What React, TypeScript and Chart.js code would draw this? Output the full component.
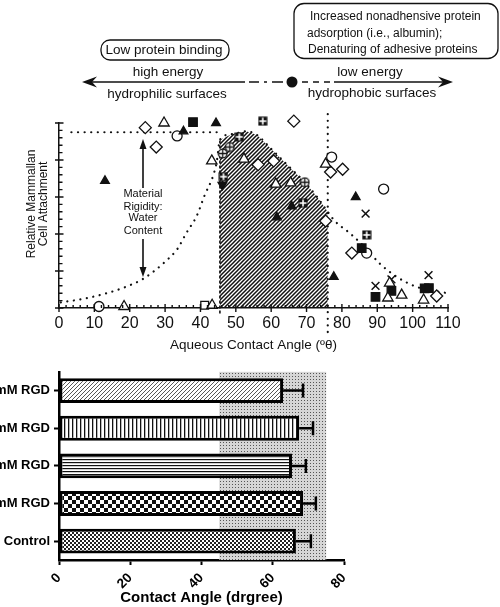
import React, { useEffect, useRef } from 'react';
import { Chart, registerables } from 'chart.js';
Chart.register(...registerables);

const FONT = "'Liberation Sans', Arial, Helvetica, sans-serif";

// ---------- top chart data ----------
const angleTicks = [0, 10, 20, 30, 40, 50, 60, 70, 80, 90, 100, 110];
const curveAngles = [0.5, 7, 13.5, 19, 24, 30, 33.5, 36, 39, 41.2, 43.5, 44.6, 45.5, 49, 53, 56, 60, 65, 69.5, 73, 76, 78, 82.2, 86.4, 90.7, 95.4, 101, 106.7, 110];
const curveAttach = [3, 5, 8, 11.5, 16, 25, 32, 40.5, 50, 61, 71, 79, 91, 94, 95.5, 93.5, 86, 76.5, 68, 60, 52, 47, 40.5, 33, 24, 17, 11.5, 9, 8];
const optimalRange = [45.5, 76];
const plateauLine = [[3.5, 95], [45.5, 95]];
const leftEdgeSpan = [-3, 91];
const rightEdgeSpan = [-13, 105];

const openTriangles = [[29.7, 100], [43.2, 79.5], [18.4, 0.8], [43.3, 1.5], [52.3, 80.5], [61.3, 67], [65.5, 67.6], [75.4, 77.8], [93, 5.4], [93.5, 13.5], [96.9, 7], [103.1, 4.3]];
const filledTriangles = [[44.4, 100], [13, 68.7], [35.2, 95.5], [65.8, 55], [61.6, 49], [83.9, 60], [77.7, 16.8]];
const filledSquares = [[37.9, 100.5], [85.6, 32.4], [89.5, 6], [94, 9.2], [103.4, 10.6], [104.6, 10.8]];
const openSquares = [[41.2, 1.5]];
const openDiamonds = [[24.4, 97.5], [27.5, 87], [66.4, 101], [56.3, 77.5], [60.7, 79.5], [75.4, 47], [76.8, 73.5], [80.2, 75], [82.8, 29.7], [106.8, 6.5]];
const openCircles = [[11.3, 0.8], [33.4, 93], [77.1, 81.6], [91.8, 64.3], [87, 29.7]];
const crossMarks = [[86.7, 51], [89.5, 12], [94, 15.5], [104.5, 17.8]];
const crossSquares = [[57.6, 101], [51, 92.5], [46.5, 71], [87, 39.5], [69, 56.7]];
const crossCircles = [[69.5, 68], [48.3, 87], [46.3, 83.5]];
const invertedTriangles = [[46.2, 66.5]];

// ---------- bottom chart data ----------
const groups = ['2mM RGD', '1mM RGD', '0.5mM RGD', '0.1mM RGD', 'Control'];
const means = [62.9, 67.4, 65.4, 68.5, 66.5];
const errors = [5.6, 3.9, 3.9, 3.6, 4.2];
const shadeRange = [45, 75];
const contactTicks = [0, 20, 40, 60, 80];

const pts = (arr: number[][]) => arr.map(([x, y]) => ({ x, y }));

function tile(w: number, h: number, draw: (g: CanvasRenderingContext2D) => void) {
  const c = document.createElement('canvas');
  c.width = w; c.height = h;
  const g = c.getContext('2d')!;
  draw(g);
  return g.createPattern(c, 'repeat')!;
}

function diagTile(size: number, color: string, lw: number, bg: string | null) {
  return tile(size, size, (g) => {
    if (bg) { g.fillStyle = bg; g.fillRect(0, 0, size, size); }
    g.strokeStyle = color; g.lineWidth = lw;
    g.beginPath();
    g.moveTo(-1, size + 1); g.lineTo(size + 1, -1);
    g.moveTo(-1, 1); g.lineTo(1, -1);
    g.moveTo(size - 1, size + 1); g.lineTo(size + 1, size - 1);
    g.stroke();
  });
}

function makeCrossSquare() {
  const c = document.createElement('canvas'); c.width = 10; c.height = 10;
  const g = c.getContext('2d')!;
  g.fillStyle = '#111'; g.fillRect(0.5, 0.5, 9, 9);
  g.fillStyle = '#fff'; g.fillRect(4.2, 1.5, 1.6, 7); g.fillRect(1.5, 4.2, 7, 1.6);
  return c;
}
function makeCrossCircle() {
  const c = document.createElement('canvas'); c.width = 11; c.height = 11;
  const g = c.getContext('2d')!;
  g.fillStyle = '#fff'; g.strokeStyle = '#111'; g.lineWidth = 1.3;
  g.beginPath(); g.arc(5.5, 5.5, 4.3, 0, Math.PI * 2); g.fill(); g.stroke();
  g.beginPath(); g.moveTo(5.5, 1.5); g.lineTo(5.5, 9.5); g.moveTo(1.5, 5.5); g.lineTo(9.5, 5.5); g.stroke();
  return c;
}

function arrowHead(ctx: CanvasRenderingContext2D, tx: number, ty: number, dir: number) {
  ctx.beginPath();
  ctx.moveTo(tx, ty);
  ctx.lineTo(tx - dir * 15, ty - 5.5);
  ctx.lineTo(tx - dir * 10, ty);
  ctx.lineTo(tx - dir * 15, ty + 5.5);
  ctx.closePath();
  ctx.fill();
}
function vArrowHead(ctx: CanvasRenderingContext2D, tx: number, ty: number, dir: number) {
  ctx.beginPath();
  ctx.moveTo(tx, ty);
  ctx.lineTo(tx - 3.5, ty - dir * 10);
  ctx.lineTo(tx + 3.5, ty - dir * 10);
  ctx.closePath();
  ctx.fill();
}

const topPlugin = {
  id: 'topExtras',
  afterDraw(chart: any) {
    const { ctx, scales: { x, y } } = chart;
    ctx.save();
    ctx.strokeStyle = '#111';
    ctx.fillStyle = '#111';
    const y0 = y.getPixelForValue(0);
    ctx.lineWidth = 1.4;
    ctx.beginPath();
    for (let v = 0; v <= 110; v += 2) {
      const px = x.getPixelForValue(v);
      if (v % 10 === 0) { ctx.moveTo(px, y0 - 4); ctx.lineTo(px, y0 + 4); }
      else { ctx.moveTo(px, y0); ctx.lineTo(px, y0 - 3); }
    }
    const x0 = x.getPixelForValue(0);
    for (let v = 0; v <= 100; v += 4) {
      const py = y.getPixelForValue(v);
      if (v % 20 === 0) { ctx.moveTo(x0 - 4, py); ctx.lineTo(x0 + 4.5, py); }
      else { ctx.moveTo(x0, py); ctx.lineTo(x0 + 3.5, py); }
    }
    ctx.stroke();

    ctx.font = `12px ${FONT}`;
    ctx.textAlign = 'center';
    ctx.textBaseline = 'middle';
    ctx.save();
    ctx.translate(32, 204);
    ctx.rotate(-Math.PI / 2);
    ctx.fillText('Relative Mammallan', 0, 0);
    ctx.fillText('Cell Attachment', 0, 12);
    ctx.restore();

    ctx.font = `11px ${FONT}`;
    ctx.fillText('Material', 143, 194);
    ctx.fillText('Rigidity:', 143, 207);
    ctx.fillText('Water', 143, 218);
    ctx.fillText('Content', 143, 231);
    ctx.lineWidth = 1.6;
    ctx.beginPath();
    ctx.moveTo(143, 188); ctx.lineTo(143, 146);
    ctx.moveTo(143, 239); ctx.lineTo(143, 270);
    ctx.stroke();
    vArrowHead(ctx, 143, 139, -1);
    vArrowHead(ctx, 143, 277, 1);

    ctx.lineWidth = 1.3;
    ctx.beginPath();
    ctx.roundRect(101, 40, 128, 20, 9);
    ctx.stroke();
    ctx.beginPath();
    ctx.roundRect(294, 3.5, 204, 55, 10);
    ctx.stroke();
    ctx.font = `13.5px ${FONT}`;
    ctx.fillText('Low protein binding', 164, 50.5);
    ctx.textAlign = 'left';
    ctx.font = `12px ${FONT}`;
    ctx.fillText('Increased nonadhensive protein', 310, 16.5);
    ctx.fillText('adsorption (i.e., albumin);', 307, 33.5);
    ctx.fillText('Denaturing of adhesive proteins', 308, 50);

    ctx.textAlign = 'center';
    ctx.font = `13.5px ${FONT}`;
    ctx.fillText('high energy', 168, 72);
    ctx.fillText('hydrophilic surfaces', 167, 94);
    ctx.fillText('low energy', 370, 72);
    ctx.fillText('hydrophobic surfaces', 372, 93);
    const ay = 82;
    ctx.lineWidth = 1.5;
    ctx.beginPath(); ctx.moveTo(90, ay); ctx.lineTo(245, ay); ctx.stroke();
    ctx.beginPath(); ctx.moveTo(249, ay); ctx.lineTo(259, ay);
    ctx.moveTo(264, ay); ctx.lineTo(267, ay);
    ctx.moveTo(272, ay); ctx.lineTo(283, ay); ctx.stroke();
    ctx.setLineDash([6, 5]);
    ctx.beginPath(); ctx.moveTo(302, ay); ctx.lineTo(334, ay); ctx.stroke();
    ctx.setLineDash([]);
    ctx.beginPath(); ctx.moveTo(334, ay); ctx.lineTo(444, ay); ctx.stroke();
    arrowHead(ctx, 82, ay, -1);
    arrowHead(ctx, 453, ay, 1);
    ctx.beginPath(); ctx.arc(292, ay, 5.5, 0, Math.PI * 2); ctx.fill();
    ctx.restore();
  },
};

function topConfig(): any {
  const hatch = diagTile(4, '#111', 1.5, null);
  const crossSq = makeCrossSquare();
  const crossCi = makeCrossCircle();
  const curveData = curveAngles.map((xv, i) => ({ x: xv, y: curveAttach[i] }));
  const hatchData = [
    { x: optimalRange[0], y: 0 },
    ...curveData.filter((p) => p.x >= optimalRange[0] && p.x <= optimalRange[1]),
    { x: optimalRange[1], y: 0 },
  ];
  const dotted = { showLine: true, borderColor: '#111', borderWidth: 2.2, borderDash: [0.1, 6.5], borderCapStyle: 'round', pointRadius: 0, fill: false };
  const mk = (data: number[][], style: any, extra: any) => ({
    data: pts(data), pointStyle: style, clip: false, order: 1, pointBorderColor: '#111', borderColor: '#111', pointBorderWidth: 1.3, ...extra,
  });
  return {
    type: 'scatter',
    data: {
      datasets: [
        { data: hatchData, showLine: true, fill: 'origin', backgroundColor: hatch, borderColor: 'transparent', borderWidth: 0, pointRadius: 0, tension: 0, order: 30 },
        { ...dotted, data: curveData, cubicInterpolationMode: 'monotone', order: 10 },
        { ...dotted, data: pts(plateauLine), order: 10 },
        { ...dotted, data: pts(rightEdgeSpan.map((v) => [optimalRange[1], v])), clip: false, order: 10 },
        { showLine: true, data: pts(leftEdgeSpan.map((v) => [optimalRange[0], v])), borderColor: '#111', borderWidth: 1.6, borderDash: [3, 2], pointRadius: 0, clip: false, order: 10 },
        mk(openTriangles, 'triangle', { pointRadius: 6, pointBackgroundColor: '#fff' }),
        mk(filledTriangles, 'triangle', { pointRadius: 5, pointBackgroundColor: '#111' }),
        mk(invertedTriangles, 'triangle', { pointRadius: 5, pointBackgroundColor: '#111', pointRotation: 180 }),
        mk(filledSquares, 'rect', { pointRadius: 6, pointBackgroundColor: '#111' }),
        mk(openSquares, 'rect', { pointRadius: 5.5, pointBackgroundColor: '#fff' }),
        mk(openDiamonds, 'rectRot', { pointRadius: 6, pointBackgroundColor: '#fff' }),
        mk(openCircles, 'circle', { pointRadius: 5, pointBackgroundColor: '#fff' }),
        mk(crossMarks, 'crossRot', { pointRadius: 5.5, pointBorderWidth: 1.5 }),
        mk(crossSquares, crossSq, { pointRadius: 5 }),
        mk(crossCircles, crossCi, { pointRadius: 5 }),
      ],
    },
    options: {
      responsive: false,
      animation: false,
      events: [],
      layout: { padding: { left: 0, top: 123, right: 52, bottom: 0 } },
      plugins: { legend: { display: false }, tooltip: { enabled: false } },
      scales: {
        x: {
          type: 'linear', min: 0, max: 110,
          afterBuildTicks: (s: any) => { s.ticks = angleTicks.map((v) => ({ value: v })); },
          ticks: { font: { size: 16, family: FONT }, color: '#111', padding: 6, maxRotation: 0, autoSkip: false },
          grid: { display: false, drawTicks: false },
          border: { display: true, color: '#111', width: 1.5 },
          title: { display: true, text: 'Aqueous Contact Angle (ºθ)', font: { size: 13.5, family: FONT }, color: '#111', padding: { top: 0, bottom: 7 } },
          afterFit: (s: any) => { s.height = 52; },
        },
        y: {
          type: 'linear', min: 0, max: 100,
          ticks: { display: false },
          grid: { display: false, drawTicks: false },
          border: { display: true, color: '#111', width: 1.5 },
          afterFit: (s: any) => { s.width = 59; },
        },
      },
    },
    plugins: [topPlugin],
  };
}

function bottomConfig(): any {
  const stipple = tile(3, 3, (g) => { g.fillStyle = '#d6d6d6'; g.fillRect(0, 0, 3, 3); g.fillStyle = '#555'; g.fillRect(1, 1, 1, 1); });
  const barPatterns = [
    diagTile(4, '#444', 0.9, '#fff'),
    tile(4, 4, (g) => { g.fillStyle = '#fff'; g.fillRect(0, 0, 4, 4); g.fillStyle = '#111'; g.fillRect(0, 0, 1.3, 4); }),
    tile(3, 3, (g) => { g.fillStyle = '#fff'; g.fillRect(0, 0, 3, 3); g.fillStyle = '#111'; g.fillRect(0, 0, 3, 1.2); }),
    tile(8, 8, (g) => { g.fillStyle = '#fff'; g.fillRect(0, 0, 8, 8); g.fillStyle = '#111'; g.fillRect(0, 0, 4, 4); g.fillRect(4, 4, 4, 4); }),
    tile(4, 4, (g) => { g.fillStyle = '#fff'; g.fillRect(0, 0, 4, 4); g.fillStyle = '#222'; g.fillRect(0, 0, 2, 2); g.fillRect(2, 2, 2, 2); }),
  ];
  const plugin = {
    id: 'botExtras',
    beforeDatasetsDraw(chart: any) {
      const { ctx, chartArea, scales: { x } } = chart;
      const a = x.getPixelForValue(shadeRange[0]);
      const b = x.getPixelForValue(shadeRange[1]);
      ctx.save();
      ctx.fillStyle = stipple;
      ctx.fillRect(a, chartArea.top, b - a, chartArea.bottom - chartArea.top);
      ctx.restore();
    },
    afterDatasetsDraw(chart: any) {
      const { ctx, scales: { x } } = chart;
      const meta = chart.getDatasetMeta(0);
      ctx.save();
      ctx.strokeStyle = '#000';
      ctx.lineWidth = 2.5;
      meta.data.forEach((bar: any, i: number) => {
        const xe = x.getPixelForValue(means[i] + errors[i]);
        ctx.beginPath();
        ctx.moveTo(bar.x, bar.y); ctx.lineTo(xe, bar.y);
        ctx.moveTo(xe, bar.y - 7); ctx.lineTo(xe, bar.y + 7);
        ctx.stroke();
      });
      ctx.restore();
    },
  };
  return {
    type: 'bar',
    data: {
      labels: groups,
      datasets: [{ data: means, backgroundColor: barPatterns, borderColor: '#000', borderWidth: 3, borderSkipped: false, barPercentage: 0.66, categoryPercentage: 1 }],
    },
    options: {
      indexAxis: 'y',
      responsive: false,
      animation: false,
      events: [],
      layout: { padding: { left: 0, top: 10, right: 156, bottom: 0 } },
      plugins: { legend: { display: false }, tooltip: { enabled: false } },
      scales: {
        x: {
          type: 'linear', min: 0, max: 80,
          afterBuildTicks: (s: any) => { s.ticks = contactTicks.map((v) => ({ value: v })); },
          ticks: { font: { size: 13.5, weight: 'bold', family: FONT }, color: '#000', minRotation: 45, maxRotation: 45, padding: 5, autoSkip: false },
          grid: { drawOnChartArea: false, tickLength: 5, tickColor: '#000', tickWidth: 2 },
          border: { color: '#000', width: 2.5 },
          title: { display: true, text: 'Contact Angle (drgree)', font: { size: 15, weight: 'bold', family: FONT }, color: '#000', padding: { top: 0, bottom: 0 } },
          afterFit: (s: any) => { s.height = 47; },
        },
        y: {
          ticks: { font: { size: 13, weight: 'bold', family: FONT }, color: '#000', padding: 4 },
          grid: { drawOnChartArea: false, offset: false, tickLength: 5, tickColor: '#000', tickWidth: 2 },
          border: { color: '#000', width: 2.5 },
          afterFit: (s: any) => { s.width = 119; },
        },
      },
    },
    plugins: [plugin],
  };
}

export default function App() {
  const topRef = useRef<HTMLCanvasElement>(null);
  const botRef = useRef<HTMLCanvasElement>(null);
  useEffect(() => {
    const top = new Chart(topRef.current!, topConfig());
    const bot = new Chart(botRef.current!, bottomConfig());
    return () => { top.destroy(); bot.destroy(); };
  }, []);
  return (
    <div style={{ position: 'fixed', left: 0, top: 0, width: 500, height: 607, overflow: 'hidden', background: '#fff' }}>
      <canvas ref={topRef} width={500} height={360} style={{ position: 'absolute', left: 0, top: 0, width: 500, height: 360 }} />
      <canvas ref={botRef} width={560} height={247} style={{ position: 'absolute', left: -60, top: 360, width: 560, height: 247 }} />
    </div>
  );
}
